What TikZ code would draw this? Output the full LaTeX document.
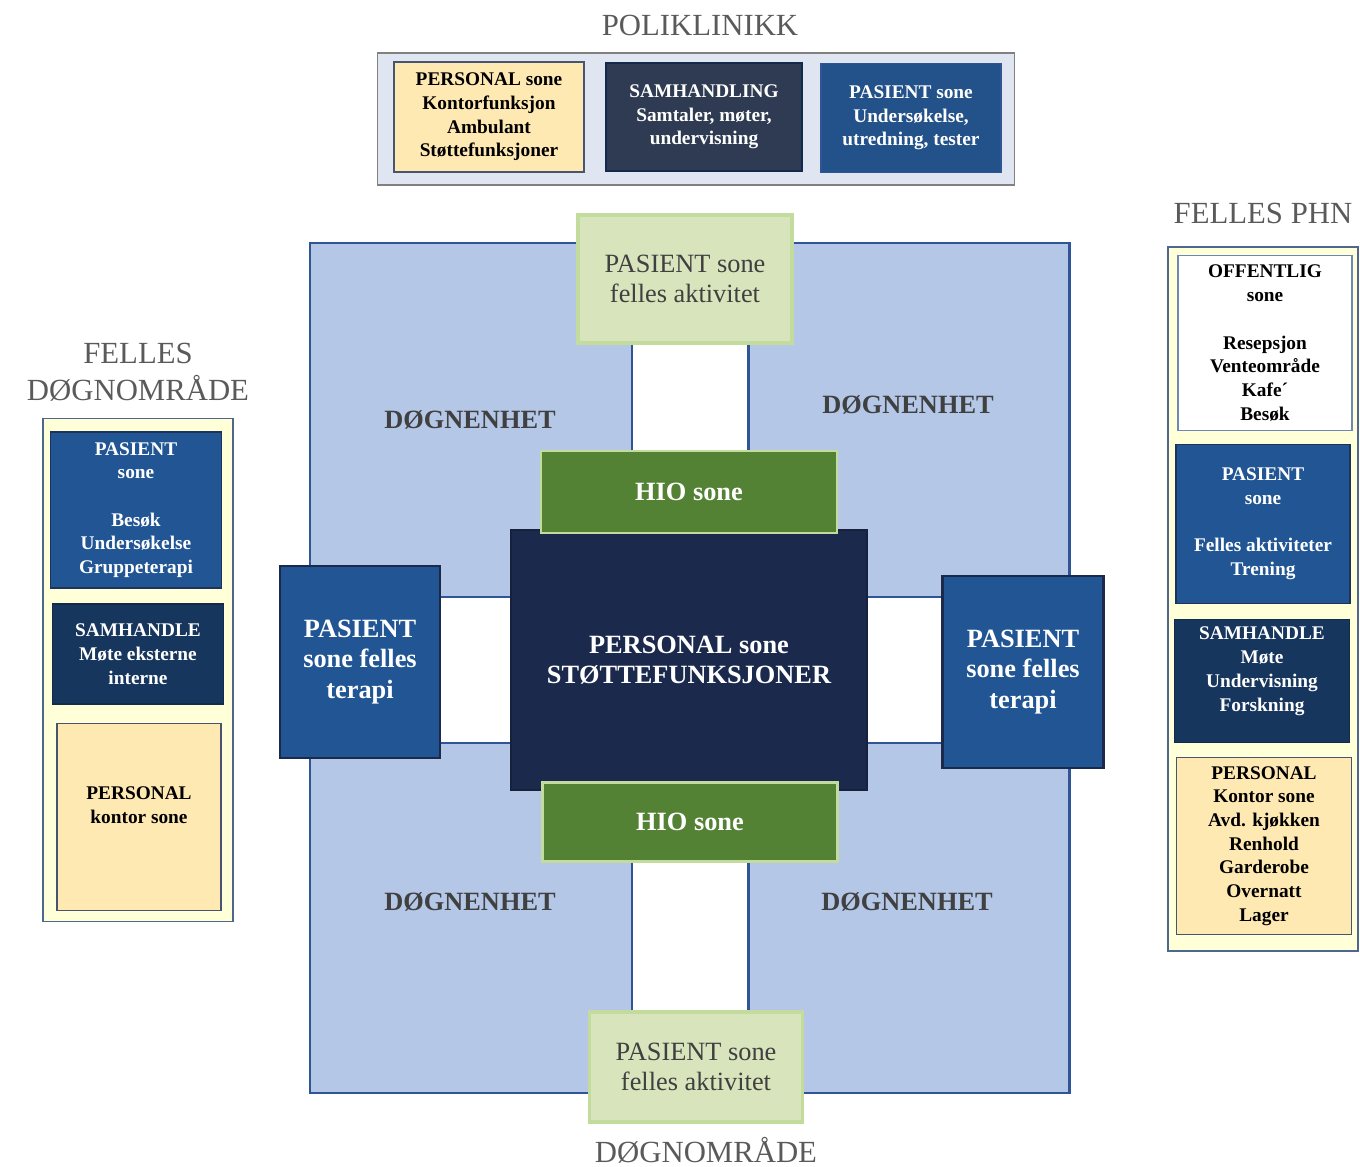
\documentclass[tikz,border=0pt]{standalone}
\usepackage{fontspec}
\setmainfont{Liberation Serif}

\definecolor{kvadrant}{HTML}{B4C7E7}
\definecolor{kant}{HTML}{2F5597}
\definecolor{pasient}{HTML}{215593}
\definecolor{marine}{HTML}{1B2A4C}
\definecolor{samhandle}{HTML}{17365D}
\definecolor{skifer}{HTML}{2E3B52}
\definecolor{gulsone}{HTML}{FFE9B3}
\definecolor{kolonne}{HTML}{FFFFD8}
\definecolor{lysgronn}{HTML}{D8E4BC}
\definecolor{gronnkant}{HTML}{C3DB9C}
\definecolor{hio}{HTML}{548235}
\definecolor{tittel}{HTML}{5A5A5A}

\begin{document}
\begin{tikzpicture}[x=0.02cm, y=-0.02cm,
  box/.style = {rectangle, inner sep=0pt, align=center, font=\fontsize{11}{13.5}\selectfont\bfseries},
  quad/.style = {box, draw=kant, line width=1.6pt, fill=kvadrant},
  blaa/.style = {box, fill=pasient, draw=marine, line width=1.4pt, text=white},
  mork/.style = {box, fill=samhandle, draw=samhandle!80!black, line width=0.8pt, text=white},
  gul/.style = {box, fill=gulsone, draw=marine!80, line width=0.8pt, text=black},
  gronn/.style = {box, fill=lysgronn, draw=gronnkant, line width=1.8pt, text=black!75,
    font=\fontsize{15}{17}\selectfont},
  hiobox/.style = {box, fill=hio, draw=gronnkant, line width=1.6pt, text=white, font=\fontsize{15}{17}\selectfont\bfseries},
  kol/.style = {box, fill=kolonne, draw=kant!60!gray, line width=1pt},
  title/.style = {text=tittel, align=center, font=\fontsize{17.5}{21}\selectfont},
  enhet/.style = {text=black!75, font=\fontsize{15}{17}\selectfont\bfseries}]
\useasboundingbox (0,0) rectangle (1360,1167);

% poliklinikk
\node[title] (poli) at (700,25) {POLIKLINIKK};
\node[box, fill=gray!10!kvadrant!40, draw=gray, line width=1pt, minimum width=12.74cm, minimum height=2.64cm] (poliboks) at (696,119) {};
\node[gul, minimum width=3.8cm, minimum height=2.2cm] (pp) at (489,117) {PERSONAL sone\\Kontorfunksjon\\Ambulant\\Støttefunksjoner};
\node[mork, fill=skifer, minimum width=3.92cm, minimum height=2.16cm] (ps) at (704,117) {SAMHANDLING\\Samtaler, møter,\\undervisning};
\node[blaa, fill=pasient!85!skifer, draw=kant, line width=0.8pt, minimum width=3.6cm, minimum height=2.18cm] (pa) at (911,118) {PASIENT sone\\Undersøkelse,\\utredning, tester};

% felles phn
\node[title] (phn) at (1263,213) {FELLES PHN};
\node[kol, minimum width=3.8cm, minimum height=14.08cm] (phnboks) at (1263,599) {};
\node[box, fill=white, draw=kant!70, line width=1pt, minimum width=3.48cm, minimum height=3.5cm] (off) at (1265,343) {OFFENTLIG\\sone\\[13.5pt]Resepsjon\\Venteområde\\Kafe´\\Besøk};
\node[blaa, draw=kant!60!black, line width=1pt, minimum width=3.48cm, minimum height=3.18cm] (rpas) at (1263,524) {PASIENT\\sone\\[13.5pt]Felles aktiviteter\\Trening};
\node[mork, minimum width=3.5cm, minimum height=2.46cm] (rsam) at (1262,681) {SAMHANDLE\\Møte\\Undervisning\\Forskning\\~};
\node[gul, minimum width=3.5cm, minimum height=3.54cm] (rper) at (1264,846) {PERSONAL\\Kontor sone\\Avd. kjøkken\\Renhold\\Garderobe\\Overnatt\\Lager};

% felles døgnområde
\node[title] (fd) at (138,372) {FELLES\\DØGNOMRÅDE};
\node[kol, minimum width=3.8cm, minimum height=10.06cm] (fdboks) at (138,670) {};
\node[blaa, draw=kant!60!black, line width=1pt, minimum width=3.42cm, minimum height=3.12cm] (lpas) at (136,510) {PASIENT\\sone\\[13.5pt]Besøk\\Undersøkelse\\Gruppeterapi};
\node[mork, minimum width=3.42cm, minimum height=2.0cm] (lsam) at (138,654) {SAMHANDLE\\Møte eksterne\\interne};
\node[gul, minimum width=3.28cm, minimum height=3.74cm] (lper) at (139,817) {PERSONAL\\kontor sone\\~};

% døgnområde
\node[quad, minimum width=6.44cm, minimum height=7.08cm] (q1) at (471,420) {};
\node[quad, minimum width=6.42cm, minimum height=7.08cm] (q2) at (909,420) {};
\node[quad, minimum width=6.44cm, minimum height=7.0cm] (q3) at (471,918) {};
\node[quad, minimum width=6.42cm, minimum height=7.0cm] (q4) at (909,918) {};
\node[enhet] (e1) at (470,420) {DØGNENHET};
\node[enhet] (e2) at (908,405) {DØGNENHET};
\node[enhet] (e3) at (470,902) {DØGNENHET};
\node[enhet] (e4) at (907,902) {DØGNENHET};

\node[box, fill=marine, draw=marine!80!black, line width=1pt, text=white, font=\fontsize{15}{17}\selectfont\bfseries,
  minimum width=7.12cm, minimum height=5.2cm] (stotte) at (689,660) {PERSONAL sone\\STØTTEFUNKSJONER};
\node[hiobox, minimum width=5.92cm, minimum height=1.64cm] (hio1) at (689,492) {HIO sone};
\node[hiobox, minimum width=5.9cm, minimum height=1.58cm] (hio2) at (690,822) {HIO sone};
\node[gronn, minimum width=4.28cm, minimum height=2.56cm] (akt1) at (685,279) {PASIENT sone\\felles aktivitet};
\node[gronn, minimum width=4.26cm, minimum height=2.2cm] (akt2) at (696,1067) {PASIENT sone\\felles aktivitet};
\node[blaa, font=\fontsize{15}{17.6}\selectfont\bfseries, minimum width=3.2cm, minimum height=3.84cm] (ter1) at (360,662) {PASIENT\\sone felles\\terapi};
\node[blaa, font=\fontsize{15}{17.6}\selectfont\bfseries, minimum width=3.22cm, minimum height=3.84cm] (ter2) at (1023,672) {PASIENT\\sone felles\\terapi};

\node[title] (dogn) at (706,1150) {DØGNOMRÅDE};
\end{tikzpicture}
\end{document}
